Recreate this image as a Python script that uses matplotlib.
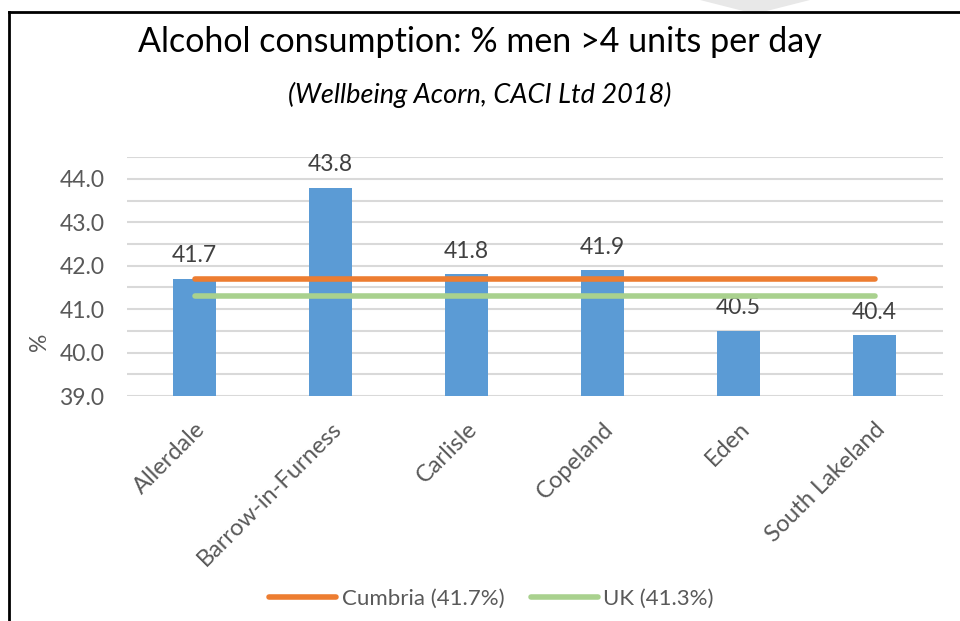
import numpy as np
import matplotlib.pyplot as plt
from matplotlib.lines import Line2D
from matplotlib.patches import Polygon

districts = ["Allerdale", "Barrow-in-Furness", "Carlisle", "Copeland", "Eden", "South Lakeland"]
men_pct = [41.7, 43.8, 41.8, 41.9, 40.5, 40.4]
cumbria = [41.7] * 6
uk = [41.3] * 6

plt.rcParams["font.family"] = ["Lato", "DejaVu Sans"]

fig = plt.figure(figsize=(9.6, 6.21), dpi=100)
ax = fig.add_axes([0.132, 0.3623, 0.850, 0.3847])

x = np.arange(len(districts))
ax.bar(x, men_pct, width=0.32, color="#5B9BD5", zorder=2)
for xi, v in zip(x, men_pct):
    ax.annotate(f"{v:.1f}", (xi, v), xytext=(0, 9), textcoords="offset points",
                ha="center", va="bottom", fontsize=16.5, color="#404040")

ax.plot(x, cumbria, color="#ED7D31", lw=4, solid_capstyle="round", zorder=3)
ax.plot(x, uk, color="#A9D18E", lw=4, solid_capstyle="round", zorder=3)

ax.set_xlim(-0.5, 5.5)
ax.set_ylim(39, 44.5)
ax.set_yticks(np.arange(39, 44.01, 1.0))
ax.set_yticks(np.arange(39, 44.51, 0.5), minor=True)
ax.set_yticklabels([f"{t:.1f}" for t in np.arange(39, 44.01, 1.0)], fontsize=16.5, color="#595959")
ax.grid(axis="y", which="both", color="#D9D9D9", lw=1.5, zorder=0)
ax.tick_params(axis="y", which="both", length=0, pad=16)
ax.set_xticks(x)
ax.set_xticklabels(districts, rotation=45, ha="right", rotation_mode="anchor",
                   fontsize=17, color="#595959")
ax.tick_params(axis="x", length=0, pad=16)
for s in ax.spines.values():
    s.set_visible(False)
ax.set_ylabel("%", fontsize=16.5, color="#595959", va="center")
ax.yaxis.set_label_coords(-0.107, 0.226)

fig.text(0.5, 0.932, "Alcohol consumption: % men >4 units per day", ha="center", va="center",
         fontsize=24.5, color="#000000")
fig.text(0.5, 0.847, "(Wellbeing Acorn, CACI Ltd 2018)", ha="center", va="center",
         fontsize=19.5, style="italic", color="#000000")

handles = [Line2D([], [], color="#ED7D31", lw=4, solid_capstyle="round"),
           Line2D([], [], color="#A9D18E", lw=4, solid_capstyle="round")]
fig.legend(handles, ["Cumbria (41.7%)", "UK (41.3%)"], loc="center",
           bbox_to_anchor=(0.512, 0.035), ncol=2, frameon=False, fontsize=16,
           handlelength=3.0, handletextpad=0.25, columnspacing=1.2,
           labelcolor="#595959")

# frame and faint watermark corner
fig.add_artist(Line2D([9 / 960, 1], [1 - 12 / 621] * 2, color="black", lw=2, transform=fig.transFigure))
fig.add_artist(Line2D([9 / 960] * 2, [0, 1 - 12 / 621], color="black", lw=2, transform=fig.transFigure))
fig.add_artist(Polygon([[700 / 960, 1], [810 / 960, 1], [755 / 960, 1 - 14 / 621]], closed=True,
                       facecolor="#E8E8E8", edgecolor="none", transform=fig.transFigure, zorder=-1))

fig.savefig("out.png", dpi=100, facecolor="white")
